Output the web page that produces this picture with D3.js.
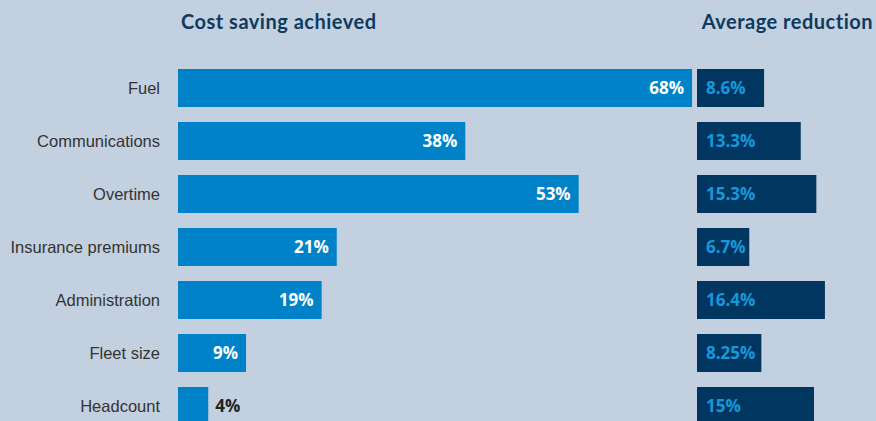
<!DOCTYPE html>
<html>
<head>
<meta charset="utf-8">
<script src="https://cdn.jsdelivr.net/npm/d3@7"></script>
<style>
  body { margin: 0; background: #c3d0e0; }
  svg { display: block; }
  .title { font-family: 'Lato', sans-serif; font-weight: bold; font-size: 20px; letter-spacing: 0.5px; fill: #0d3a5f; }
  .cat { font-family: 'Liberation Sans Narrow', 'Liberation Sans', sans-serif; font-size: 16.5px; fill: #333; }
  .val { font-family: 'Open Sans', sans-serif; font-weight: bold; font-size: 17px; }
</style>
</head>
<body>
<svg width="876" height="421"></svg>
<script>
const categories = ['Fuel', 'Communications', 'Overtime', 'Insurance premiums', 'Administration', 'Fleet size', 'Headcount']
const savingAchieved = [68, 38, 53, 21, 19, 9, 4]
const averageReduction = [8.6, 13.3, 15.3, 6.7, 16.4, 8.25, 15]
const reductionLabels = ['8.6%', '13.3%', '15.3%', '6.7%', '16.4%', '8.25%', '15%']

const data = categories.map((c, i) => ({
  cat: c,
  saving: savingAchieved[i],
  reduction: averageReduction[i],
  redLabel: reductionLabels[i]
}))

const svg = d3.select('svg')

// rows: 53px step, 38px bars, first bar at y=69
const y = d3.scaleBand()
  .domain(categories)
  .range([69, 69 + 53 * categories.length - 15])
  .paddingInner(15 / 53)
  .paddingOuter(0)

// left bars
const xLeft = d3.scaleLinear()
  .domain([0, 100])
  .range([178, 934])

// right bars
const xRight = d3.scaleLinear()
  .domain([0, 20])
  .range([697, 853])

// headings
svg.append('text')
  .attr('class', 'title')
  .attr('x', 181)
  .attr('y', 29)
  .text('Cost saving achieved')

svg.append('text')
  .attr('class', 'title')
  .attr('x', 873)
  .attr('y', 29)
  .style('text-anchor', 'end')
  .text('Average reduction')

const rows = svg.selectAll('g.row')
  .data(data)
  .enter()
  .append('g')
  .attr('class', 'row')
  .attr('transform', d => `translate(0, ${y(d.cat)})`)

const h = y.bandwidth()

// category labels
rows.append('text')
  .attr('class', 'cat')
  .attr('x', 160)
  .attr('y', h / 2)
  .attr('dy', '0.35em')
  .style('text-anchor', 'end')
  .text(d => d.cat)

rows.append('rect')
  .attr('x', xLeft(0))
  .attr('y', 0)
  .attr('width', d => xLeft(d.saving) - xLeft(0))
  .attr('height', h)
  .attr('fill', '#0082c8')

// saving label: inside the bar, or outside if bar is too short
rows.append('text')
  .attr('class', 'val')
  .attr('x', d => d.saving < 6 ? xLeft(d.saving) + 7 : xLeft(d.saving) - 8)
  .attr('y', h / 2)
  .attr('dy', '0.35em')
  .style('text-anchor', d => d.saving < 6 ? 'start' : 'end')
  .attr('fill', d => d.saving < 6 ? '#222' : '#fff')
  .text(d => d.saving + '%')

rows.append('rect')
  .attr('x', xRight(0))
  .attr('y', 0)
  .attr('width', d => xRight(d.reduction) - xRight(0))
  .attr('height', h)
  .attr('fill', '#00365f')

rows.append('text')
  .attr('class', 'val')
  .attr('x', xRight(0) + 9)
  .attr('y', h / 2)
  .attr('dy', '0.35em')
  .attr('fill', '#1898dc')
  .text(d => d.redLabel)
</script>
</body>
</html>
